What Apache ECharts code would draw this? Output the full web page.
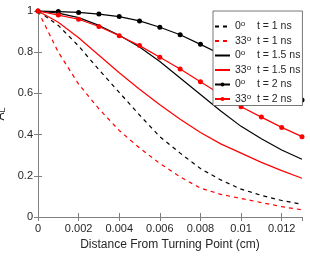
<!DOCTYPE html>
<html><head><meta charset="utf-8">
<script src="https://cdn.jsdelivr.net/npm/echarts@6/dist/echarts.min.js"></script>
<style>html,body{margin:0;padding:0;background:#fff}#c{width:310px;height:256px}</style>
</head><body><div id="c"></div>
<script>
var xs = [0,0.001,0.002,0.003,0.004,0.005,0.006,0.007,0.008,0.009,0.010,0.011,0.012,0.013];
var black1 = [1,0.93,0.83,0.715,0.605,0.495,0.39,0.31,0.235,0.18,0.135,0.105,0.08,0.062];
var red1 = [1,0.80,0.645,0.525,0.42,0.335,0.26,0.195,0.14,0.11,0.09,0.07,0.05,0.035];
var black15 = [1,0.99,0.968,0.93,0.882,0.825,0.755,0.675,0.595,0.515,0.44,0.38,0.325,0.28];
var red15 = [1,0.945,0.87,0.785,0.70,0.62,0.545,0.475,0.41,0.355,0.31,0.265,0.225,0.188];
var black2 = [1,0.997,0.993,0.985,0.973,0.952,0.921,0.885,0.838,0.79,0.74,0.685,0.628,0.568];
var red2 = [1,0.98,0.96,0.925,0.88,0.832,0.775,0.718,0.657,0.595,0.535,0.485,0.435,0.39];
var xTicks = [0,0.002,0.004,0.006,0.008,0.01,0.012];
var yTicks = [0,0.2,0.4,0.6,0.8,1];
var legendNames = ['0|1','33|1','0|1.5','33|1.5','0|2','33|2'];

function pairs(v){ return xs.map(function(x,i){ return [x, v[i]]; }); }
var font = 'Liberation Sans, Arial, sans-serif';
var axisCol = '#808080';
var txt = '#262626';
function mk(name, vals, color, dashed, marker){
  return {
    name: name, type: 'line', data: pairs(vals),
    symbol: marker ? 'circle' : 'none', symbolSize: 5, showSymbol: !!marker,
    lineStyle: {color: color, width: 1.2, type: dashed ? [4,4] : 'solid'},
    itemStyle: {color: color},
    clip: false, animation: false
  };
}
var chart = echarts.init(document.getElementById('c'), null, {renderer:'canvas'});
chart.setOption({
  animation: false,
  textStyle: {fontFamily: font},
  grid: {left: 38, right: 8, top: 11, bottom: 39, containLabel: false, outerBoundsMode: 'none'},
  legend: {
    orient: 'vertical', left: 213, top: 11,
    backgroundColor: '#fff', borderColor: '#555', borderWidth: 0.8,
    padding: [9, 2, 0, 1], itemGap: 1.5, itemWidth: 15, itemHeight: 5,
    data: legendNames.map(function(n, i){
      return i < 4 ? {name: n, itemStyle: {opacity: 0}} : {name: n};
    }),
    textStyle: {fontSize: 10.5, color: txt, fontFamily: font, lineHeight: 13,
      rich: {sup: {fontSize: 8, verticalAlign: 'top', padding: [0,0,6,0], color: txt},
             n: {fontSize: 10.5, color: txt}}},
    formatter: function(name){
      var p = name.split('|');
      var sp = p[0].length > 1 ? '  ' : '    ';
      return '{n|' + p[0] + '}{sup|o}{n|' + sp + 't = ' + p[1] + ' ns}';
    }
  },
  xAxis: [{
    type: 'value', min: 0, max: 0.013, interval: 0.002,
    name: 'Distance From Turning Point (cm)', nameLocation: 'middle', nameGap: 21,
    nameTextStyle: {fontSize: 12, color: txt, fontFamily: font},
    axisLine: {lineStyle: {color: axisCol}},
    axisTick: {inside: true, length: 4, lineStyle: {color: axisCol}},
    axisLabel: {fontSize: 11, color: txt, margin: 6, showMaxLabel: false,
      formatter: function(v){ return String(+v.toFixed(3)); }},
    splitLine: {show: false}
  },{
    type: 'value', min: 0, max: 0.013, interval: 0.002, position: 'top',
    axisLine: {lineStyle: {color: axisCol}},
    axisTick: {inside: true, length: 4, lineStyle: {color: axisCol}},
    axisLabel: {show: false}, splitLine: {show: false}
  }],
  yAxis: [{
    type: 'value', min: 0, max: 1, interval: 0.2,
    name: 'A{s|L}', nameLocation: 'middle', nameGap: 22, nameRotate: 90,
    nameTextStyle: {fontSize: 12, color: txt, fontFamily: font,
      rich: {s: {fontSize: 9, verticalAlign: 'bottom', color: txt}}},
    axisLine: {lineStyle: {color: axisCol}},
    axisTick: {inside: true, length: 4, lineStyle: {color: axisCol}},
    axisLabel: {fontSize: 11, color: txt, margin: 5,
      formatter: function(v){ return String(+v.toFixed(1)); }},
    splitLine: {show: false}
  },{
    type: 'value', min: 0, max: 1, interval: 0.2, position: 'right',
    axisLine: {show: true, lineStyle: {color: axisCol}},
    axisTick: {show: true, inside: true, length: 4, lineStyle: {color: axisCol}},
    axisLabel: {show: false}, splitLine: {show: false}
  }],
  series: [
    mk(legendNames[0], black1, '#000', true, false),
    mk(legendNames[1], red1, '#ff0000', true, false),
    mk(legendNames[2], black15, '#000', false, false),
    mk(legendNames[3], red15, '#ff0000', false, false),
    mk(legendNames[4], black2, '#000', false, true),
    mk(legendNames[5], red2, '#ff0000', false, true)
  ]
});
</script></body></html>
